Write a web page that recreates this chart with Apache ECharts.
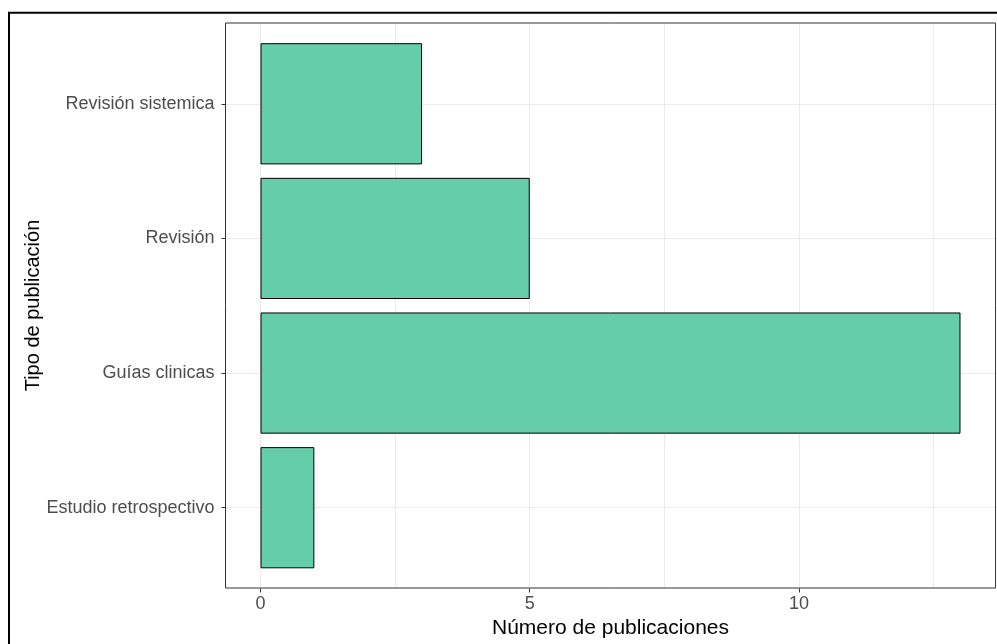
<!DOCTYPE html>
<html>
<head>
<meta charset="utf-8">
<script src="https://cdn.jsdelivr.net/npm/echarts@6/dist/echarts.min.js"></script>
<style>
html,body{margin:0;padding:0;background:#fff;}
#chart{width:997px;height:644px;}
</style>
</head>
<body>
<div id="chart"></div>
<script>
// Data (bottom to top, as drawn on the y axis)
const categories = ['Estudio retrospectivo', 'Guías clinicas', 'Revisión', 'Revisión sistemica'];
const counts = [1, 13, 5, 3];
const xTickValues = [0, 5, 10];
const xTitle = 'Número de publicaciones';
const yTitle = 'Tipo de publicación';

const FONT = '"Liberation Sans", Arial, sans-serif';
const PANEL_L = 225.5, PANEL_T = 23, PANEL_W = 770, PANEL_H = 565.5;
const X_MIN = -0.65, X_MAX = 13.65;  // ggplot 5% expansion of 0..13
const UNIT = PANEL_W / (X_MAX - X_MIN);
const ZERO_X = PANEL_L - X_MIN * UNIT;
const DATA_W = X_MAX * UNIT;
const BAND = PANEL_H / 4.2;     // px per category
const CAT_T = PANEL_T + 0.6 * BAND;
const CAT_H = 3 * BAND;

const chart = echarts.init(document.getElementById('chart'), null, {renderer: 'canvas'});
const hidden = {show: false};
const option = {
  animation: false,
  backgroundColor: '#fff',
  textStyle: {fontFamily: FONT},
  grid: [
    {left: PANEL_L, top: PANEL_T, width: PANEL_W, height: PANEL_H, show: true,
     borderColor: '#333333', borderWidth: 1, backgroundColor: 'transparent', z: 3},
    {left: ZERO_X, top: PANEL_T, width: DATA_W, height: PANEL_H},
    {left: PANEL_L, top: CAT_T, width: PANEL_W, height: CAT_H},
    {left: ZERO_X, top: CAT_T, width: DATA_W, height: CAT_H}
  ],
  xAxis: [
    {gridIndex: 0, type: 'value', min: 0, max: 1, show: true,
     axisLine: hidden, axisTick: hidden, axisLabel: hidden, splitLine: hidden,
     name: xTitle, nameLocation: 'middle', nameGap: 30,
     nameTextStyle: {color: '#000', fontSize: 21, fontFamily: FONT}},
    // grid lines every 2.5 (major at 0,5,10; minor at 2.5,7.5,12.5)
    {gridIndex: 1, type: 'value', min: 0, max: X_MAX, interval: 2.5,
     axisLine: hidden, axisTick: hidden, axisLabel: hidden,
     splitLine: {show: true, lineStyle: {color: '#EBEBEB', width: 1}}},
    // ticks and labels at 0, 5, 10
    {gridIndex: 1, type: 'value', min: 0, max: X_MAX, position: 'bottom',
     axisLine: hidden,
     axisTick: {show: true, length: 4, customValues: xTickValues,
       lineStyle: {color: '#333333', width: 1}},
     axisLabel: {color: '#4D4D4D', fontSize: 18, margin: 7, fontFamily: FONT,
       customValues: xTickValues},
     splitLine: hidden},
    {gridIndex: 2, type: 'value', min: 0, max: 1, show: false},
    {gridIndex: 3, type: 'value', min: 0, max: X_MAX, show: false}
  ],
  yAxis: [
    {gridIndex: 0, type: 'value', min: 0, max: 1, show: true,
     axisLine: hidden, axisTick: hidden, axisLabel: hidden, splitLine: hidden,
     name: yTitle, nameLocation: 'middle', nameRotate: 90, nameGap: 182,
     nameTextStyle: {color: '#000', fontSize: 20, fontFamily: FONT}},
    {gridIndex: 1, type: 'value', min: 0, max: 1, show: false},
    {gridIndex: 2, type: 'category', data: categories, boundaryGap: false,
     axisLine: hidden,
     axisTick: {show: true, length: 4, lineStyle: {color: '#333333', width: 1}},
     axisLabel: {color: '#4D4D4D', fontSize: 18, margin: 11, fontFamily: FONT},
     splitLine: {show: true, lineStyle: {color: '#EBEBEB', width: 1}}},
    {gridIndex: 3, type: 'category', data: categories, boundaryGap: false, show: false}
  ],
  series: [{
    type: 'bar',
    xAxisIndex: 4, yAxisIndex: 3,
    data: counts,
    barWidth: '90%',
    clip: false,
    itemStyle: {color: '#66CDAA', borderColor: '#000000', borderWidth: 1},
    z: 2
  }],
  graphic: [{
    type: 'rect',
    shape: {x: 9, y: 12.8, width: 1000, height: 700},
    style: {fill: 'none', stroke: '#000', lineWidth: 2},
    z: 100
  }]
};
chart.setOption(option);
</script>
</body>
</html>
